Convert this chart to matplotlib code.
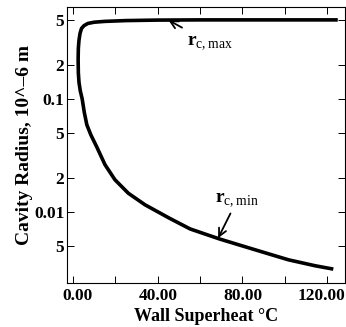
import matplotlib
matplotlib.use("Agg")
import matplotlib.pyplot as plt
import matplotlib.transforms as mtransforms
from matplotlib.ticker import FixedLocator, NullLocator

plt.rcParams['font.family'] = ['Liberation Serif', 'DejaVu Serif']
plt.rcParams['mathtext.fontset'] = 'custom'
plt.rcParams['mathtext.rm'] = 'Liberation Serif'
plt.rcParams['mathtext.bf'] = 'Liberation Serif:bold'

# one continuous curve: r_c,max branch (top, right to left), the nose, then r_c,min branch
superheat = [125, 90, 60, 40, 25, 15, 10, 7, 5.2, 4.0, 3.3, 2.8, 2.5, 2.4, 2.5, 2.8, 3.4,
             4.3, 5.3, 6.5, 8.4, 11.2, 15.1, 19.8, 26.1, 34.0, 45.4, 55.3, 69.4, 87.0,
             101.7, 114.3, 122.9]
radius = [0.50, 0.50, 0.50, 0.498, 0.493, 0.485, 0.477, 0.465, 0.445, 0.42, 0.38, 0.33,
          0.28, 0.22, 0.17, 0.14, 0.118, 0.1, 0.076, 0.059, 0.048, 0.0375, 0.0261, 0.0192,
          0.0146, 0.01153, 0.0088, 0.00705, 0.00573, 0.00455, 0.00376, 0.00333, 0.00311]

ytick_vals = [0.5, 0.2, 0.1, 0.05, 0.02, 0.01, 0.005]
ytick_labels = ["5", "2", "0.1", "5", "2", "0.01", "5"]
xtick_vals = [0, 40, 80, 120]
xtick_labels = ["0.00", "40.00", "80.00", "120.00"]
xminor_vals = [20, 60, 100]

fig = plt.figure(figsize=(3.46, 3.27), dpi=100)
ax = fig.add_axes([0.194, 0.135, 0.803, 0.844])

ax.plot(superheat, radius, color='black', lw=2.6, solid_capstyle='butt', solid_joinstyle='round')
ax.set_yscale('log')
ax.set_xlim(-2.8, 128.4)
ax.set_ylim(0.00235, 0.652)

ax.yaxis.set_major_locator(FixedLocator(ytick_vals))
ax.yaxis.set_minor_locator(NullLocator())
ax.set_yticklabels(ytick_labels, fontweight='bold', fontsize=12.5)
ax.xaxis.set_major_locator(FixedLocator(xtick_vals))
ax.xaxis.set_minor_locator(FixedLocator(xminor_vals))
ax.set_xticklabels(xtick_labels, fontweight='bold', fontsize=12.5)
ax.tick_params(which='both', direction='in', top=True, right=True, length=5, width=0.7)
ax.tick_params(axis='y', pad=2)
for s in ax.spines.values():
    s.set_linewidth(0.8)

# nudge the end labels a little, as in the original
lbls = ax.get_xticklabels()
lbls[0].set_transform(lbls[0].get_transform() + mtransforms.ScaledTranslation(3 / 72, 0, fig.dpi_scale_trans))
lbls[-1].set_transform(lbls[-1].get_transform() + mtransforms.ScaledTranslation(-4 / 72, 0, fig.dpi_scale_trans))

ax.set_xlabel("Wall Superheat °C", fontweight='bold', fontsize=13, labelpad=3)
ax.set_ylabel("Cavity Radius, 10^–6 m", fontweight='bold', fontsize=14, labelpad=1)

ax.annotate(r"$\mathbf{r}_{\mathrm{c,max}}$", xy=(45, 0.498), xytext=(54, 0.31),
            fontsize=14, ha='left', va='center',
            arrowprops=dict(arrowstyle='->', color='black', lw=1.3, shrinkA=6, shrinkB=0))
ax.annotate(r"$\mathbf{r}_{\mathrm{c,min}}$", xy=(68.5, 0.00585), xytext=(67, 0.0105),
            fontsize=14, ha='left', va='bottom',
            arrowprops=dict(arrowstyle='->', color='black', lw=1.3, shrinkA=1, shrinkB=0))

fig.savefig("out.png", dpi=100)
